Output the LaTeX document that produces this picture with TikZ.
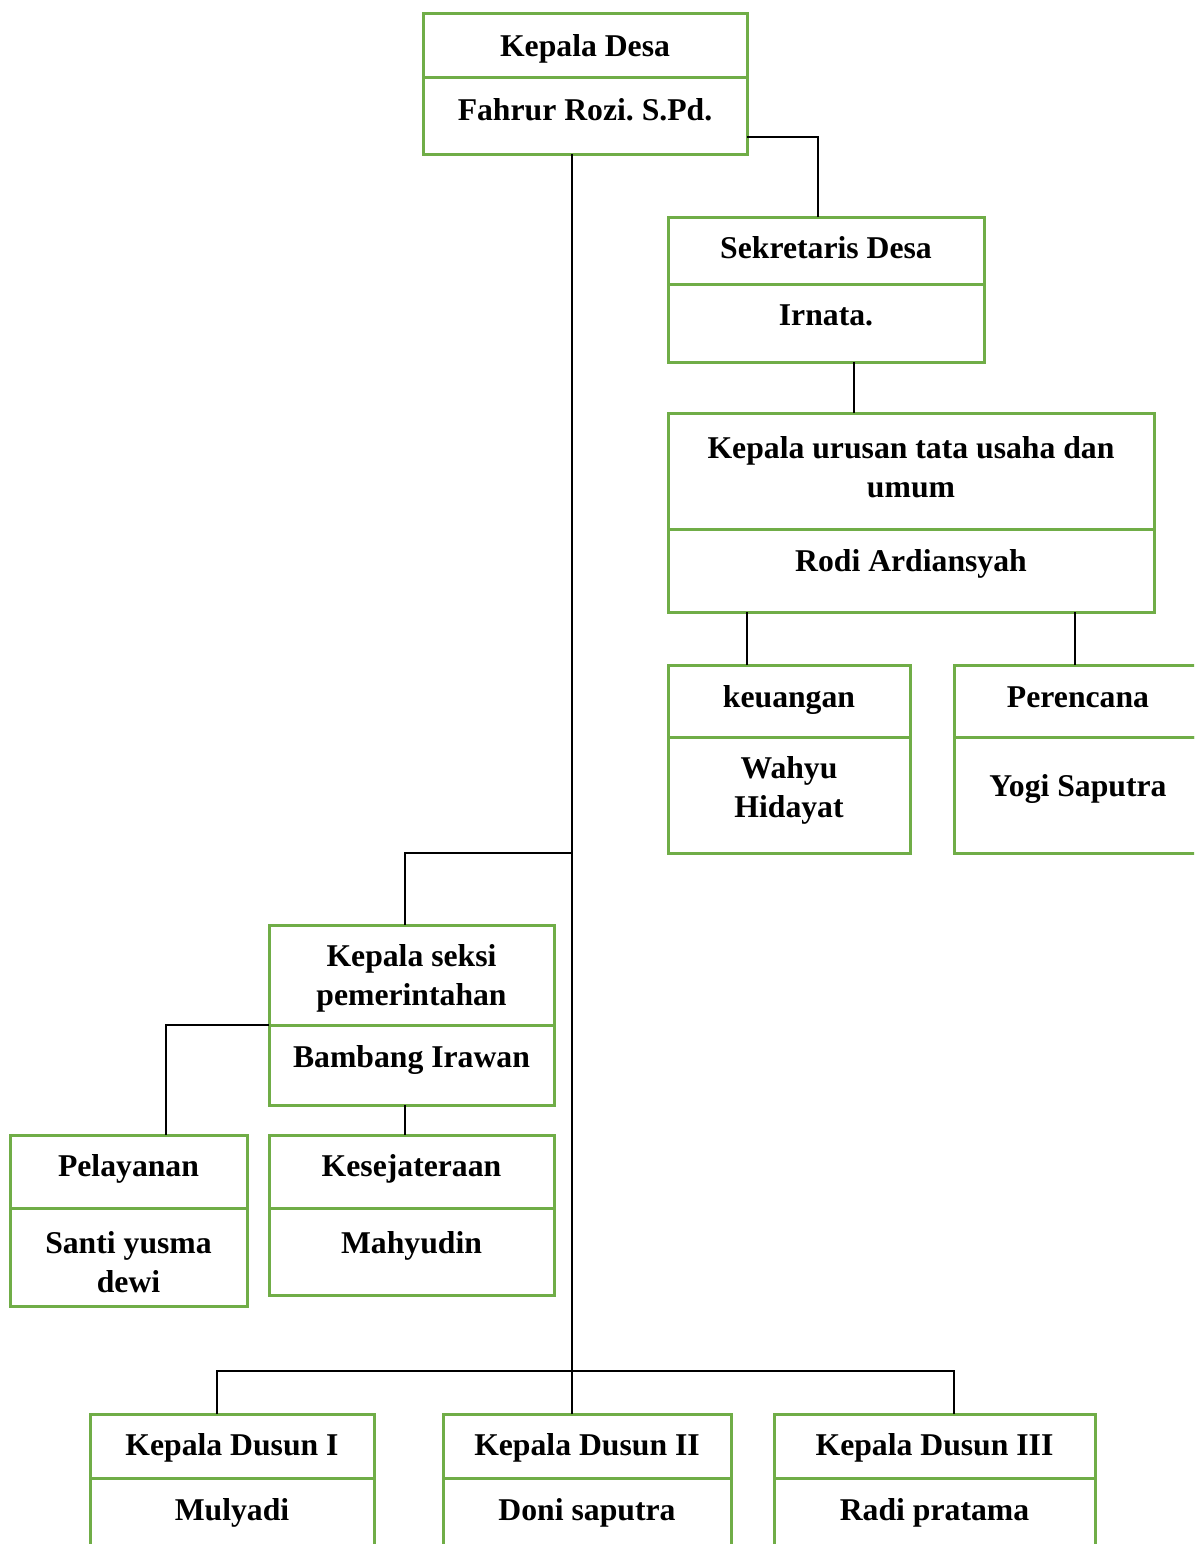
\documentclass[tikz,border=0pt]{standalone}
\usepackage{fontspec}
\setmainfont{Liberation Serif}
\frenchspacing
\definecolor{boxgreen}{HTML}{70AD47}
\tikzset{
  orgbox/.style={draw=boxgreen, line width=3pt, inner sep=0pt, outer sep=0pt},
  lbl/.style={font=\fontsize{31.7}{39}\selectfont\bfseries\frenchspacing, align=center, inner sep=0pt, text height=22pt, text depth=7pt, yshift=-2pt},
  lblm/.style={font=\fontsize{31.7}{39}\selectfont\bfseries\frenchspacing, align=center, inner sep=0pt, yshift=-2pt},
  conn/.style={draw=black, line width=1.3pt}
}
\newcommand\orgunit[6]{%
  \node[orgbox, minimum width={(#3-#2)*1pt}, minimum height={(#5-#4)*1pt}] (#1T) at ({(#2+#3)/2},{(#4+#5)/2}) {};
  \node[orgbox, minimum width={(#3-#2)*1pt}, minimum height={(#6-#5)*1pt}] (#1B) at ({(#2+#3)/2},{(#5+#6)/2}) {};
}
\begin{document}
\begin{tikzpicture}[x=1pt,y=-1pt]
\fill[white] (0,0) rectangle (1194,1544);
\clip (0,0) rectangle (1194,1544);

% boxes
\orgunit{kd}{423}{747}{14}{78}{154}
\orgunit{sd}{668}{984}{217}{284}{362}
\orgunit{ku}{668}{1154}{413}{529}{612}
\orgunit{keu}{668}{910}{665}{737}{853}
\orgunit{per}{954}{1202}{665}{737}{853}
\orgunit{ks}{269}{554}{925}{1025}{1105}
\orgunit{pel}{10}{247}{1135}{1208}{1306}
\orgunit{kes}{269}{554}{1135}{1208}{1295}
\orgunit{da}{90}{374}{1414}{1478}{1570}
\orgunit{db}{443}{731}{1414}{1478}{1570}
\orgunit{dc}{774}{1095}{1414}{1478}{1570}

% labels
\node[lbl] (kdt) at (kdT.center |- 0,47) {Kepala Desa};
\node[lbl] (kdn) at (kdT.center |- 0,111) {Fahrur Rozi. S.Pd.};
\node[lbl] (sdt) at (sdT.center |- 0,249) {Sekretaris Desa};
\node[lbl] (sdn) at (sdT.center |- 0,316) {Irnata.};
\node[lblm] (kut) at (kuT.center |- 0,465) {Kepala urusan tata usaha dan\\umum};
\node[lbl] (kun) at (kuT.center |- 0,562) {Rodi Ardiansyah};
\node[lbl] (keut) at (keuT.center |- 0,698) {keuangan};
\node[lblm] (keun) at (keuT.center |- 0,788) {Wahyu\\Hidayat};
\node[lbl] (pert) at (perT.center |- 0,698) {Perencana};
\node[lbl] (pern) at (perT.center |- 0,787) {Yogi Saputra};
\node[lblm] (kst) at (ksT.center |- 0,976) {Kepala seksi\\pemerintahan};
\node[lbl] (ksn) at (ksT.center |- 0,1058) {Bambang Irawan};
\node[lbl] (pelt) at (pelT.center |- 0,1167) {Pelayanan};
\node[lblm] (peln) at (pelT.center |- 0,1260) {Santi yusma\\dewi};
\node[lbl] (kest) at (kesT.center |- 0,1167) {Kesejateraan};
\node[lbl] (kesn) at (kesT.center |- 0,1244) {Mahyudin};
\node[lbl] (dat) at (daT.center |- 0,1446) {Kepala Dusun I};
\node[lbl] (dan) at (daT.center |- 0,1511) {Mulyadi};
\node[lbl] (dbt) at (dbT.center |- 0,1446) {Kepala Dusun II};
\node[lbl] (dbn) at (dbT.center |- 0,1511) {Doni saputra};
\node[lbl] (dct) at (dcT.center |- 0,1446) {Kepala Dusun III};
\node[lbl] (dcn) at (dcT.center |- 0,1511) {Radi pratama};

% connectors
\coordinate (j1) at (572,853);
\coordinate (j2) at (572,1371);
\draw[conn] (572,0 |- kdB.south) -- (572,0 |- dbT.north);
\draw[conn] (kdB.east |- 0,137) -| (818,0 |- sdT.north);
\draw[conn] (854,0 |- sdB.south) -- (854,0 |- kuT.north);
\draw[conn] (747,0 |- kuB.south) -- (747,0 |- keuT.north);
\draw[conn] (1075,0 |- kuB.south) -- (1075,0 |- perT.north);
\draw[conn] (j1) -| (405,0 |- ksT.north);
\draw[conn] (ksB.north west) -| (166,0 |- pelT.north);
\draw[conn] (405,0 |- ksB.south) -- (405,0 |- kesT.north);
\draw[conn] (217,0 |- daT.north) |- (j2) -| (954,0 |- dcT.north);
\end{tikzpicture}
\end{document}
